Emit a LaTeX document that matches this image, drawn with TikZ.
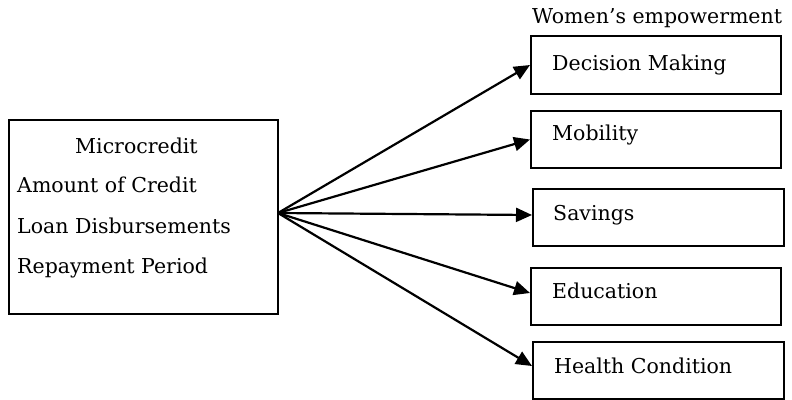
\documentclass[tikz,border=0pt]{standalone}
\usepackage{fontspec}
\setmainfont{DejaVu Serif}
\usetikzlibrary{arrows.meta}
\begin{document}
\begin{tikzpicture}[x=1pt,y=-1pt,
  box/.style={draw=black,line width=2pt,inner sep=0pt,anchor=north west},
  txt/.style={anchor=base west,inner sep=0pt,font=\fontsize{20.5}{24}\selectfont},
  arr/.style={line width=2.2pt,-{Triangle[length=16pt,width=14pt]}}]
\useasboundingbox (0,0) rectangle (792,399);
% left box
\node[box,minimum width=269pt,minimum height=194pt] (mc) at (8,119) {};
\node[txt] (t1) at (75,153) {Microcredit};
\node[txt] (t2) at (17,192) {Amount of Credit};
\node[txt] (t3) at (17,233) {Loan Disbursements};
\node[txt] (t4) at (17,273) {Repayment Period};
% right boxes
\node[txt] (we) at (532,23) {Women’s empowerment};
\node[box,minimum width=250pt,minimum height=58pt] (dm) at (530,35) {};
\node[box,minimum width=250pt,minimum height=57pt] (mo) at (530,110) {};
\node[box,minimum width=251pt,minimum height=57pt] (sa) at (532,188) {};
\node[box,minimum width=250pt,minimum height=57pt] (ed) at (530,267) {};
\node[box,minimum width=251pt,minimum height=57pt] (hc) at (532,341) {};
\node[txt] (l1) at (552,70) {Decision Making};
\node[txt] (l2) at (552,140) {Mobility};
\node[txt] (l3) at (553,220) {Savings};
\node[txt] (l4) at (552,298) {Education};
\node[txt] (l5) at (554,373) {Health Condition};
% arrows
\coordinate (o) at (278,213);
\draw[arr] (o) -- (dm.west);
\draw[arr] (o) -- (mo.west);
\draw[arr] (o) -- ([yshift=2.5pt]sa.west);
\draw[arr] (o) -- ([yshift=3.5pt]ed.west);
\draw[arr] (o) -- ([yshift=4.5pt]hc.west);
\end{tikzpicture}
\end{document}
